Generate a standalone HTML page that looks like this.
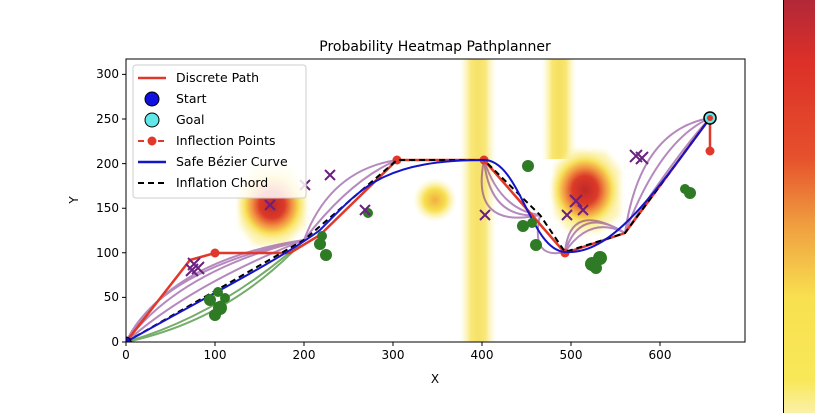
<!DOCTYPE html>
<html><head><meta charset="utf-8"><style>
body{margin:0;background:#fff;}
svg{display:block;font-family:"DejaVu Sans","Liberation Sans",sans-serif;}
</style></head><body>
<svg width="815" height="413" viewBox="0 0 815 413" xmlns="http://www.w3.org/2000/svg">
<defs>
<linearGradient id="cb" x1="0" y1="0" x2="0" y2="1">
<stop offset="0" stop-color="#b22838"/>
<stop offset="0.15" stop-color="#dc3028"/>
<stop offset="0.38" stop-color="#e6502c"/>
<stop offset="0.55" stop-color="#f0a040"/>
<stop offset="0.72" stop-color="#f8e050"/>
<stop offset="0.92" stop-color="#f8e858"/>
<stop offset="1" stop-color="#fbf0a8"/>
</linearGradient>
<radialGradient id="hot">
<stop offset="0" stop-color="#c02828"/>
<stop offset="0.35" stop-color="#dc3a28"/>
<stop offset="0.55" stop-color="#f09040"/>
<stop offset="0.75" stop-color="#f8e058"/>
<stop offset="1" stop-color="#fbf4b0" stop-opacity="0"/>
</radialGradient>
<radialGradient id="small">
<stop offset="0" stop-color="#f0b040"/>
<stop offset="0.5" stop-color="#f8e050"/>
<stop offset="1" stop-color="#fbf4b0" stop-opacity="0"/>
</radialGradient>
<linearGradient id="strip" x1="0" y1="0" x2="1" y2="0">
<stop offset="0" stop-color="#fbf2a0" stop-opacity="0"/>
<stop offset="0.3" stop-color="#f8e460"/>
<stop offset="0.5" stop-color="#f4dc50"/>
<stop offset="0.7" stop-color="#f8e460"/>
<stop offset="1" stop-color="#fbf2a0" stop-opacity="0"/>
</linearGradient>
<clipPath id="ax"><rect x="126" y="59" width="619" height="283"/></clipPath>
<filter id="bl"><feGaussianBlur stdDeviation="3"/></filter>
</defs>

<text x="435" y="51" font-size="14" text-anchor="middle">Probability Heatmap Pathplanner</text>

<g clip-path="url(#ax)">
<rect x="460" y="59" width="36" height="283" fill="url(#strip)" opacity="0.85"/>
<rect x="542" y="59" width="34" height="100" fill="url(#strip)" opacity="0.9"/>
<g filter="url(#bl)">
<polygon points="240,190 255,165 290,165 305,190 305,225 285,245 255,245 240,225" fill="#fbf0a0" opacity="0.8"/>
<polygon points="555,165 575,150 605,152 620,170 620,215 600,232 570,232 555,215" fill="#fbf0a0" opacity="0.8"/>
</g>
<ellipse cx="272" cy="205" rx="36" ry="38" fill="url(#hot)"/>
<ellipse cx="585" cy="190" rx="36" ry="40" fill="url(#hot)"/>
<ellipse cx="435" cy="200" rx="22" ry="22" fill="url(#small)"/>

<g fill="none" stroke="#3a8a2a" stroke-width="2" opacity="0.7">
<path d="M126,342 Q230,320 304,240"/>
<path d="M126,342 Q220,315 304,240"/>
</g>
<g fill="none" stroke="#7a2a8a" stroke-width="2" opacity="0.55">
<path d="M126,342 Q170,260 304,240"/>
<path d="M126,342 Q180,270 304,240"/>
<path d="M126,342 Q190,285 304,240"/>
<path d="M126,342 Q160,270 304,240"/>
<path d="M304,240 Q330,170 397,160"/>
<path d="M304,240 Q350,180 397,160"/>
<path d="M484,160 Q470,230 540,215"/>
<path d="M484,160 Q500,210 540,215"/>
<path d="M484,160 Q490,220 540,215"/>
<path d="M540,215 Q530,260 565,252"/>
<path d="M565,252 Q570,200 625,233"/>
<path d="M565,252 Q590,215 625,233"/>
<path d="M565,252 Q580,205 625,233"/>
<path d="M625,233 Q640,130 710,118"/>
<path d="M625,233 Q660,140 710,118"/>
<path d="M625,233 Q680,150 710,118"/>
</g>
<polyline fill="none" stroke="#e0392b" stroke-width="2.5" points="126,342 190,260 215,253 290,253 320,235 397,160 484,160 565,253 625,233 710,118 710,151"/>
<g fill="#e0392b"><circle cx="215" cy="253" r="4.5"/><circle cx="397" cy="160" r="4.5"/><circle cx="484" cy="160" r="4.5"/><circle cx="565" cy="253" r="4.5"/><circle cx="710" cy="151" r="4.5"/></g>
<polyline fill="none" stroke="#000" stroke-width="2" stroke-dasharray="6,4" points="126,342 304,240 397,160 484,160 540,215 565,252 625,233 710,118"/>
<path fill="none" stroke="#1515c8" stroke-width="2" d="M126,342 C200,300 280,260 320,230 C360,190 380,160 484,160 C520,160 530,250 565,252 C610,255 650,200 710,118"/>
<g fill="#2f7a25">
<circle cx="210" cy="300" r="6"/><circle cx="220" cy="308" r="7"/><circle cx="215" cy="315" r="6"/><circle cx="225" cy="298" r="5"/><circle cx="218" cy="292" r="5"/>
<circle cx="320" cy="244" r="6"/><circle cx="326" cy="255" r="6"/><circle cx="322" cy="236" r="5"/><circle cx="368" cy="213" r="5"/>
<circle cx="528" cy="166" r="6"/><circle cx="523" cy="226" r="6"/><circle cx="536" cy="245" r="6"/><circle cx="532" cy="223" r="5"/>
<circle cx="592" cy="264" r="7"/><circle cx="600" cy="258" r="7"/><circle cx="596" cy="268" r="6"/><circle cx="690" cy="193" r="6"/><circle cx="685" cy="189" r="5"/>
</g>
<g stroke="#6a2080" stroke-width="2">
<path d="M188,258 l12,12 M200,258 l-12,12 M192,262 l12,12 M204,262 l-12,12 M186,264 l12,12 M198,264 l-12,12"/>
<path d="M265,200 l10,10 M275,200 l-10,10 M300,180 l10,10 M310,180 l-10,10 M325,170 l10,10 M335,170 l-10,10 M360,205 l10,10 M370,205 l-10,10"/>
<path d="M480,210 l10,10 M490,210 l-10,10 M570,195 l12,12 M582,195 l-12,12 M562,210 l10,10 M572,210 l-10,10 M578,205 l10,10 M588,205 l-10,10"/>
<path d="M630,150 l12,12 M642,150 l-12,12 M636,152 l12,12 M648,152 l-12,12"/>
</g>
<circle cx="126" cy="342" r="5" fill="#1010e0" stroke="#000"/>
<circle cx="710" cy="118" r="6" fill="#60e8e8" stroke="#000" stroke-width="1.5"/>
<circle cx="710" cy="118" r="3" fill="#e0392b"/>
</g>

<rect x="126" y="59" width="619" height="283" fill="none" stroke="#000" stroke-width="1"/>

<g stroke="#000" stroke-width="1">
<path d="M126,342v4M215,342v4M304,342v4M393,342v4M482,342v4M571,342v4M660,342v4"/>
<path d="M126,342h-4M126,297.4h-4M126,252.8h-4M126,208.2h-4M126,163.6h-4M126,119h-4M126,74.4h-4"/>
</g>
<g font-size="12" text-anchor="middle">
<text x="126" y="359">0</text><text x="215" y="359">100</text><text x="304" y="359">200</text><text x="393" y="359">300</text><text x="482" y="359">400</text><text x="571" y="359">500</text><text x="660" y="359">600</text>
<text x="435" y="383">X</text>
</g>
<g font-size="12" text-anchor="end">
<text x="119" y="346">0</text><text x="119" y="301">50</text><text x="119" y="257">100</text><text x="119" y="212">150</text><text x="119" y="168">200</text><text x="119" y="123">250</text><text x="119" y="78">300</text>
</g>
<text x="78" y="200" font-size="12" text-anchor="middle" transform="rotate(-90 78 200)">Y</text>

<rect x="133" y="65" width="173" height="133" rx="3" fill="#fff" fill-opacity="0.85" stroke="#ccc"/>
<g font-size="12.5">
<line x1="138" y1="78" x2="166" y2="78" stroke="#e0392b" stroke-width="2.5"/><text x="176" y="82">Discrete Path</text>
<circle cx="152" cy="99" r="7" fill="#1010e0" stroke="#000"/><text x="176" y="103">Start</text>
<circle cx="152" cy="120" r="7" fill="#60e8e8" stroke="#000"/><text x="176" y="124">Goal</text>
<line x1="138" y1="141" x2="166" y2="141" stroke="#e0392b" stroke-width="2" stroke-dasharray="6,4"/><circle cx="152" cy="141" r="4.5" fill="#e0392b"/><text x="176" y="145">Inflection Points</text>
<line x1="138" y1="162" x2="166" y2="162" stroke="#1515c8" stroke-width="2.5"/><text x="176" y="166">Safe Bézier Curve</text>
<line x1="138" y1="183" x2="166" y2="183" stroke="#000" stroke-width="2" stroke-dasharray="6,4"/><text x="176" y="187">Inflation Chord</text>
</g>

<rect x="783" y="0" width="32" height="413" fill="url(#cb)"/>
<line x1="783.5" y1="0" x2="783.5" y2="413" stroke="#000"/>
</svg>
</body></html>
